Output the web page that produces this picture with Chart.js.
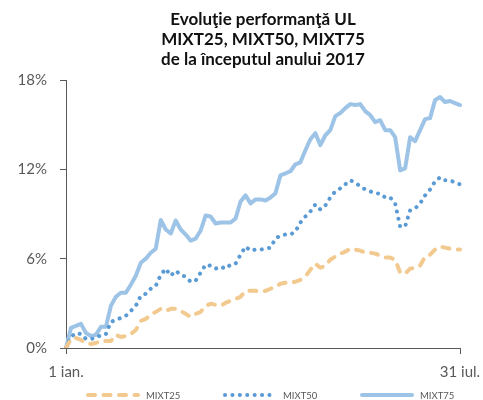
<!DOCTYPE html>
<html>
<head>
<meta charset="utf-8">
<script src="https://cdn.jsdelivr.net/npm/chart.js@4"></script>
<style>
  html, body { margin: 0; padding: 0; background: #fff; }
  #wrap { width: 483px; height: 400px; }
</style>
</head>
<body>
<div id="wrap"><canvas id="chart"></canvas></div>
<script>
// chart text
const titleLines = ['Evoluţie performanţă UL', 'MIXT25, MIXT50, MIXT75', 'de la începutul anului 2017'];
const firstLabel = '1 ian.';
const lastLabel = '31 iul.';
const seriesNames = ['MIXT25', 'MIXT50', 'MIXT75'];

// y axis (%)
const yMin = 0;
const yMax = 18;
const yStep = 6;

// performance since 1 Jan, in % (evenly spaced days)
const mixt25 = [0, 0.61, 0.67, 0.54, 0.34, 0.27, 0.34, 0.47, 0.47, 0.47,
  0.88, 0.74, 0.81, 0.94, 1.21, 1.82, 1.96, 2.22, 2.43, 2.63,
  2.49, 2.63, 2.63, 2.49, 2.29, 2.09, 2.29, 2.43, 2.83, 2.97,
  2.90, 2.83, 3.03, 3.17, 3.30, 3.44, 3.84, 3.84, 3.84, 3.78,
  3.84, 3.98, 4.11, 4.31, 4.38, 4.38, 4.45, 4.58, 4.79, 5.26,
  5.66, 5.39, 5.53, 5.93, 6.14, 6.34, 6.47, 6.67, 6.61, 6.54,
  6.40, 6.40, 6.34, 6.20, 6.07, 6.07, 5.93, 5.06, 4.99, 5.33,
  5.39, 5.53, 6.14, 6.27, 6.61, 6.81, 6.74, 6.67, 6.61, 6.61];

const mixt50 = [0, 0.74, 1.01, 0.94, 0.61, 0.61, 0.67, 0.88, 0.94, 1.75,
  1.89, 2.02, 2.16, 2.49, 2.83, 3.51, 3.64, 3.98, 4.18, 4.92,
  5.33, 4.85, 5.19, 4.92, 4.79, 4.45, 4.52, 5.06, 5.60, 5.53,
  5.33, 5.46, 5.33, 5.60, 5.66, 6.27, 6.81, 6.54, 6.61, 6.61,
  6.67, 6.74, 7.35, 7.55, 7.62, 7.62, 7.82, 8.43, 8.83, 9.17,
  9.64, 9.30, 9.57, 10.11, 10.52, 10.72, 10.99, 11.26, 11.12, 10.85,
  10.65, 10.52, 10.38, 10.38, 10.11, 10.11, 9.71, 8.16, 8.16, 9.24,
  9.37, 9.71, 10.25, 10.65, 11.19, 11.46, 11.26, 11.26, 11.12, 10.99];

const mixt75 = [0, 1.35, 1.48, 1.62, 1.01, 0.81, 0.88, 1.42, 1.42, 2.83,
  3.44, 3.71, 3.71, 4.25, 4.85, 5.73, 6.00, 6.40, 6.67, 8.60,
  7.96, 7.69, 8.56, 7.96, 7.62, 7.21, 7.35, 7.89, 8.90, 8.83,
  8.36, 8.43, 8.43, 8.43, 8.70, 9.84, 10.25, 9.71, 9.98, 9.98,
  9.91, 10.11, 10.40, 11.60, 11.73, 11.87, 12.34, 12.47, 13.28, 14.02,
  14.43, 13.62, 14.29, 14.63, 15.57, 15.78, 16.11, 16.38, 16.32, 16.38,
  15.91, 15.64, 15.17, 15.30, 14.63, 14.63, 14.16, 11.93, 12.07, 14.16,
  13.89, 14.63, 15.37, 15.44, 16.65, 16.86, 16.52, 16.59, 16.45, 16.32];

const lastIdx = mixt75.length - 1;
const labels = mixt75.map((v, i) => i === 0 ? firstLabel : (i === lastIdx ? lastLabel : ''));

const axisColor = '#595959';
const textColor = '#595959';

// legend drawn by hand so the samples sit where the original has them
const bottomLegend = {
    id: 'bottomLegend',
    afterDraw(chart) {
        const c = chart.ctx;
        const y = 395;
        const startX = 86;
        const step = 137;
        const sampleW = 54;
        c.save();
        c.font = '9.5px Lato';
        c.textBaseline = 'middle';
        c.textAlign = 'left';
        chart.data.datasets.forEach((ds, i) => {
            const x = startX + i * step;
            c.beginPath();
            c.strokeStyle = ds.borderColor;
            c.lineWidth = ds.borderWidth;
            c.lineCap = ds.borderCapStyle || 'butt';
            c.setLineDash(ds.borderDash || []);
            c.moveTo(x + 2, y);
            c.lineTo(x + sampleW - 2, y);
            c.stroke();
            c.setLineDash([]);
            c.fillStyle = textColor;
            c.fillText(ds.label, x + sampleW + 6, y + 1);
        });
        c.restore();
    }
};

const ctx = document.getElementById('chart').getContext('2d');
const chart = new Chart(ctx, {
    type: 'line',
    data: {
        labels: labels,
        datasets: [{
            label: seriesNames[0],
            data: mixt25,
            borderColor: '#F2C98E',
            borderWidth: 4,
            borderDash: [7, 8.5],
            borderCapStyle: 'round',
            borderJoinStyle: 'round'
        }, {
            label: seriesNames[1],
            data: mixt50,
            borderColor: '#5B9BD5',
            borderWidth: 4,
            borderDash: [0.1, 7.3],
            borderCapStyle: 'round',
            borderJoinStyle: 'round'
        }, {
            label: seriesNames[2],
            data: mixt75,
            borderColor: '#9DC3E6',
            borderWidth: 4,
            borderCapStyle: 'round',
            borderJoinStyle: 'round'
        }]
    },
    options: {
        responsive: true,
        maintainAspectRatio: false,
        animation: false,
        elements: {
            point: { radius: 0 },
            line: { tension: 0 }
        },
        layout: {
            padding: { left: 0, right: 0, top: 0, bottom: 10 }
        },
        plugins: {
            title: {
                display: true,
                text: titleLines,
                fullSize: false,
                color: '#111',
                font: { family: 'Lato', size: 17, weight: 'bold', lineHeight: '20px' },
                padding: { top: 10, bottom: 10 }
            },
            legend: { display: false },
            tooltip: { enabled: false }
        },
        scales: {
            x: {
                afterFit: function(scale) {
                    // keep the "31 iul." label hugging the right edge
                    scale.paddingRight = 23;
                },
                grid: {
                    drawOnChartArea: false,
                    tickLength: 6,
                    color: axisColor,
                    tickColor: c => (c.index === 0 || c.index === lastIdx) ? axisColor : 'rgba(0,0,0,0)'
                },
                border: { color: axisColor, width: 1 },
                ticks: {
                    autoSkip: false,
                    maxRotation: 0,
                    padding: 9,
                    color: textColor,
                    font: { family: 'Lato', size: 15 }
                }
            },
            y: {
                min: yMin,
                max: yMax,
                afterFit: function(scale) {
                    scale.width = 66;
                },
                grid: {
                    drawOnChartArea: false,
                    tickLength: 6,
                    color: axisColor
                },
                border: { color: axisColor, width: 1 },
                ticks: {
                    stepSize: yStep,
                    padding: 13,
                    color: textColor,
                    font: { family: 'Lato', size: 15 },
                    callback: function(value) {
                        return value + '%';
                    }
                }
            }
        }
    },
    plugins: [bottomLegend]
});
</script>
</body>
</html>
